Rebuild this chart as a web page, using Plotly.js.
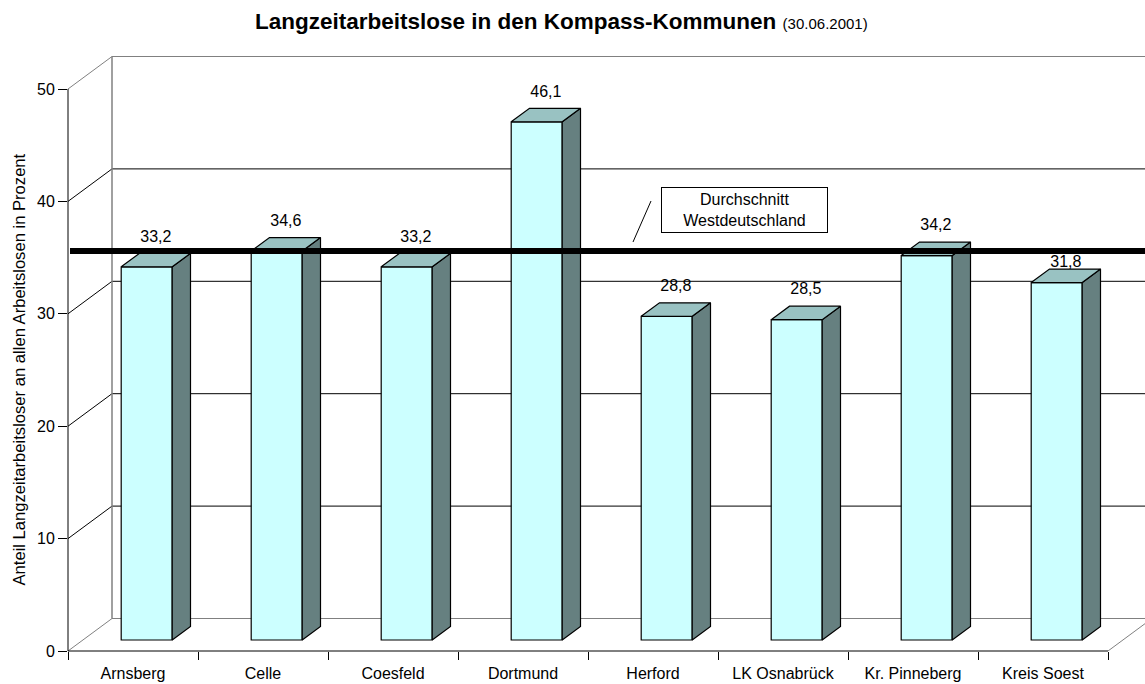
<!DOCTYPE html>
<html>
<head>
<meta charset="utf-8">
<script src="https://cdn.plot.ly/plotly-3.0.1.min.js"></script>
<style>html,body{margin:0;padding:0;background:#fff;}#chart{width:1145px;height:684px;}</style>
</head>
<body>
<div id="chart"></div>
<script>
// ---- data ----
const categories = ['Arnsberg', 'Celle', 'Coesfeld', 'Dortmund', 'Herford', 'LK Osnabrück', 'Kr. Pinneberg', 'Kreis Soest'];
const values = [33.2, 34.6, 33.2, 46.1, 28.8, 28.5, 34.2, 31.8];
const yTicks = [0, 10, 20, 30, 40, 50];
const avgWest = 34.6; // Durchschnitt Westdeutschland (drawn at bar depth)
const titleMain = 'Langzeitarbeitslose in den Kompass-Kommunen';
const titleDate = '(30.06.2001)';
const yTitle = 'Anteil Langzeitarbeitsloser an allen Arbeitslosen in Prozent';
const boxLines = ['Durchschnitt', 'Westdeutschland'];

// ---- geometry (pseudo-3D, oblique projection) ----
const W = 1145, H = 684;
const mL = 68, mR = 0, mT = 50, mB = 33;
const plotW = W - mL - mR, plotH = H - mT - mB;
const pxPerCat = 130, pxPerUnit = 11.24;
const xRange = [-0.5, -0.5 + plotW / pxPerCat];
const yRange = [0, plotH / pxPerUnit];
const backDX = 44 / pxPerCat, backDY = 32.5 / pxPerUnit;
const barBase = 11 / pxPerUnit;
const barW = 51 / pxPerCat;
const barOff = -11.8 / pxPerCat;
const sideDX = 18.3 / pxPerCat, sideDY = 13.5 / pxPerUnit;
const labelGap = 1.4;
const yMax = yTicks[yTicks.length - 1];
const nCat = categories.length;
const xi = categories.map((c, i) => i);
const avgY = barBase + avgWest;
const lineHalf = 3 / pxPerUnit, textHalf = 9 / pxPerUnit;

const FONT = 'Liberation Sans, Arial, Helvetica, sans-serif';
const FRONT = '#CCFFFF', TOP = '#99C2C2', SIDE = '#668080';
const px2xp = px => (px - mL) / plotW;
const px2yp = py => (H - mB - py) / plotH;

// side & top faces computed from the values
const sideX = [], sideY = [], topX = [], topY = [];
values.forEach((v, i) => {
  const xl = i + barOff, xr = xl + barW, yb = barBase, yt = barBase + v;
  sideX.push(xr, xr + sideDX, xr + sideDX, xr, xr, null);
  sideY.push(yb, yb + sideDY, yt + sideDY, yt, yb, null);
  topX.push(xl, xl + sideDX, xr + sideDX, xr, xl, null);
  topY.push(yt, yt + sideDY, yt + sideDY, yt, yt, null);
});

// label positions: above the bar, moved off the average line if they collide
const labelY = values.map(v => {
  let y = barBase + v + sideDY + labelGap;
  if (Math.abs(y - avgY) < lineHalf + textHalf) {
    y = (y > avgY) ? avgY + lineHalf + textHalf : avgY - lineHalf - textHalf;
  }
  return y;
});

const traces = [
  {
    type: 'bar', x: xi, y: values, base: barBase, width: barW, offset: barOff,
    marker: {color: FRONT, line: {color: '#000', width: 1.2}},
    hoverinfo: 'skip', showlegend: false
  },
  {
    type: 'scatter', mode: 'lines', x: sideX, y: sideY, fill: 'toself',
    fillcolor: SIDE, line: {color: '#000', width: 1.2}, hoverinfo: 'skip', showlegend: false
  },
  {
    type: 'scatter', mode: 'lines', x: topX, y: topY, fill: 'toself',
    fillcolor: TOP, line: {color: '#000', width: 1.2}, hoverinfo: 'skip', showlegend: false
  },
  {
    type: 'scatter', mode: 'text',
    x: xi.map(i => i + barOff + barW / 2 + sideDX / 2),
    y: labelY,
    text: values.map(v => v.toFixed(1).replace('.', ',')),
    textposition: 'middle center', cliponaxis: false,
    textfont: {family: FONT, size: 16, color: '#000'},
    hoverinfo: 'skip', showlegend: false
  }
];

const shapes = [];
yTicks.forEach(g => {
  const edge = (g === 0 || g === yMax);
  const col = edge ? '#808080' : '#000';
  // back wall gridline
  shapes.push({type: 'line', xref: 'x', yref: 'y', layer: 'below',
    x0: xRange[0] + backDX, x1: xRange[1] + 1, y0: g + backDY, y1: g + backDY,
    line: {color: col, width: 1}});
  // side wall diagonal
  shapes.push({type: 'line', xref: 'x', yref: 'y', layer: 'below',
    x0: xRange[0], x1: xRange[0] + backDX, y0: g, y1: g + backDY,
    line: {color: col, width: 1}});
});
// back-left vertical edge
shapes.push({type: 'line', xref: 'x', yref: 'y', layer: 'below',
  x0: xRange[0] + backDX, x1: xRange[0] + backDX, y0: backDY, y1: yMax + backDY,
  line: {color: '#808080', width: 1.5}});
// floor right diagonal
shapes.push({type: 'line', xref: 'x', yref: 'y', layer: 'below',
  x0: nCat - 0.5, x1: nCat - 0.5 + backDX, y0: 0, y1: backDY,
  line: {color: '#808080', width: 1}});
// x axis line
shapes.push({type: 'line', xref: 'x', yref: 'paper', layer: 'above',
  x0: -0.5, x1: nCat - 0.5, y0: 0, y1: 0, line: {color: '#000', width: 1}});
// y axis line
shapes.push({type: 'line', xref: 'paper', yref: 'y', layer: 'above',
  x0: 0, x1: 0, y0: 0, y1: yMax, line: {color: '#000', width: 1}});
// average line
shapes.push({type: 'line', xref: 'x', yref: 'y', layer: 'above',
  x0: xRange[0] + 2 / pxPerCat, x1: xRange[1] + 1, y0: avgY, y1: avgY,
  line: {color: '#000', width: 6}});
// leader line of the box
shapes.push({type: 'line', xref: 'paper', yref: 'paper', layer: 'above',
  x0: px2xp(633), y0: px2yp(242), x1: px2xp(651), y1: px2yp(201),
  line: {color: '#000', width: 1}});

const annotations = [
  {
    xref: 'paper', yref: 'paper', x: px2xp(18.5), y: px2yp(370),
    xanchor: 'center', yanchor: 'middle', textangle: -90, showarrow: false,
    text: yTitle, font: {family: FONT, size: 16.6, color: '#000'}
  },
  {
    xref: 'paper', yref: 'paper', x: px2xp(744.5), y: px2yp(209.5),
    xanchor: 'center', yanchor: 'middle', showarrow: false,
    text: boxLines.join('<br>'), font: {family: FONT, size: 16, color: '#000'},
    bgcolor: '#fff', bordercolor: '#000', borderwidth: 1, borderpad: 2,
    width: 161, height: 40
  }
];

const layout = {
  width: W, height: H,
  margin: {l: mL, r: mR, t: mT, b: mB, pad: 0},
  paper_bgcolor: '#fff', plot_bgcolor: '#fff',
  font: {family: FONT, size: 16, color: '#000'},
  showlegend: false,
  title: {
    text: '<b>' + titleMain + '</b> <span style="font-size:15px">' + titleDate + '</span>',
    font: {family: FONT, size: 22.5, color: '#000'},
    xref: 'container', yref: 'container', x: 255 / W, xanchor: 'left',
    y: 1 - 21 / H, yanchor: 'middle'
  },
  xaxis: {
    type: 'linear', range: xRange, fixedrange: true, automargin: false,
    tickmode: 'array', tickvals: xi, ticktext: categories,
    ticks: 'outside', ticklen: 8, tickcolor: 'rgba(0,0,0,0)',
    minor: {tickmode: 'array', tickvals: xi.concat([nCat]).map(i => i - 0.5),
            ticks: 'outside', ticklen: 8, tickcolor: '#000', tickwidth: 1, showgrid: false},
    showgrid: false, zeroline: false, showline: false,
    tickfont: {family: FONT, size: 16, color: '#000'}
  },
  yaxis: {
    type: 'linear', range: yRange, fixedrange: true, automargin: false,
    tickmode: 'array', tickvals: yTicks, ticktext: yTicks.map(String),
    ticks: 'outside', ticklen: 9, tickcolor: '#000', tickwidth: 1,
    showgrid: false, zeroline: false, showline: false,
    tickfont: {family: FONT, size: 16, color: '#000'}
  },
  shapes: shapes,
  annotations: annotations,
  bargap: 0
};

Plotly.newPlot('chart', traces, layout, {displayModeBar: false, staticPlot: true});
</script>
</body>
</html>
